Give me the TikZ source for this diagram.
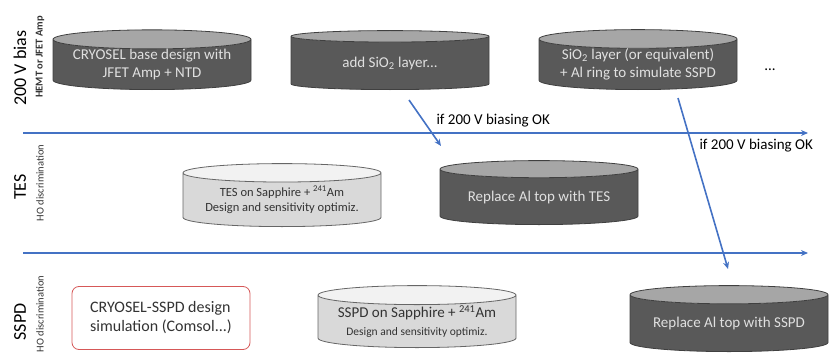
\documentclass[tikz,border=0pt]{standalone}
\usepackage{fontspec}
\setmainfont{Carlito}
\usetikzlibrary{arrows.meta,positioning,shapes.geometric}
\definecolor{drumdark}{RGB}{89,89,89}
\definecolor{drumtop}{RGB}{166,166,166}
\definecolor{drumline}{RGB}{64,64,64}
\definecolor{drumlight}{RGB}{217,217,217}
\definecolor{drumlighttop}{RGB}{242,242,242}
\definecolor{flowblue}{RGB}{68,114,196}
\definecolor{simred}{RGB}{214,88,88}

\begin{document}
\begin{tikzpicture}[x=1pt, y=-1pt,
  stage/.style={shape=cylinder, shape border rotate=90, aspect=0.12, draw=drumline, thick,
    cylinder uses custom fill, cylinder body fill=drumdark, cylinder end fill=drumtop,
    minimum width=198pt, minimum height=59pt, inner sep=0pt, align=center, anchor=south,
    text=white!88!black, font=\fontsize{15}{18}\selectfont},
  lightstage/.style={stage, draw=drumline!80, cylinder body fill=drumlight, cylinder end fill=drumlighttop,
    text=black!80},
  simbox/.style={draw=simred, thick, rounded corners=7pt, fill=white, minimum width=178pt,
    minimum height=63pt, align=left, text=black!80, font=\fontsize{16}{19}\selectfont},
  lane/.style={rotate=90, font=\fontsize{18}{21}\selectfont},
  lanesub/.style={rotate=90, font=\fontsize{10.5}{12}\selectfont, text=black!80},
  flow/.style={draw=flowblue, line width=1.6pt, -{Stealth[length=7pt,width=6pt]}},
  cond/.style={font=\fontsize{15}{17}\selectfont}
]
\useasboundingbox (0,0) rectangle (829,361);

% lane titles
\node[lane] (biasname) at (20,68) {200 V bias};
\node[lanesub, font=\fontsize{10.5}{12}\selectfont\bfseries] (biassub) at (40,57) {HEMT or JFET Amp};
\node[lane] (tesname) at (20,187) {TES};
\node[lanesub] (tessub) at (40,183) {HO discrimination};
\node[lane] (sspdname) at (20,322) {SSPD};
\node[lanesub] (sspdsub) at (40,314) {HO discrimination};

% lane separators
\coordinate (sepA) at (23,133);
\coordinate (sepAend) at (808,133);
\coordinate (sepB) at (23,253);
\coordinate (sepBend) at (808,253);
\draw[flow, line width=1.3pt] (sepA) -- (sepAend);
\draw[flow, line width=1.3pt] (sepB) -- (sepBend);

% 200 V bias lane
\node[stage] (base) at (152,90) {CRYOSEL base design with\\JFET Amp + NTD};
\node[stage] (sio) at (390,90) {add SiO\textsubscript{2} layer...};
\node[stage] (ring) at (638,90) {SiO\textsubscript{2} layer (or equivalent)\\+ Al ring to simulate SSPD};
\node[cond] (more) at (770,70) {...};

% TES lane
\node[lightstage, minimum height=63pt, font=\fontsize{12.5}{15.5}\selectfont] (tessapph) at (282,227)
  {TES on Sapphire + \textsuperscript{241}Am\\Design and sensitivity optimiz.};
\node[stage, minimum height=64pt] (tesrep) at (539,225) {Replace Al top with TES};

% SSPD lane
\node[simbox] (comsol) at (161,318) {CRYOSEL-SSPD design\\simulation (Comsol...)};
\node[lightstage, minimum height=62pt] (sspdsapph) at (417,348)
  {SSPD on Sapphire + \textsuperscript{241}Am\\{\fontsize{11.5}{14}\selectfont Design and sensitivity optimiz.}};
\node[stage, minimum height=66pt] (sspdrep) at (729,352) {Replace Al top with SSPD};

% promotion arrows
\coordinate (toTES) at (441,146);
\coordinate (toSSPD) at (728,269);
\draw[flow] (sio.south) ++(19,10) coordinate (fromSio) -- (toTES);
\draw[flow] (ring.south) ++(40,8) coordinate (fromRing) -- (toSSPD);
\node[cond, anchor=west] (okTES) at (433,121) {if 200 V biasing OK};
\node[cond, anchor=west] (okSSPD) at (696,146) {if 200 V biasing OK};
\end{tikzpicture}
\end{document}
